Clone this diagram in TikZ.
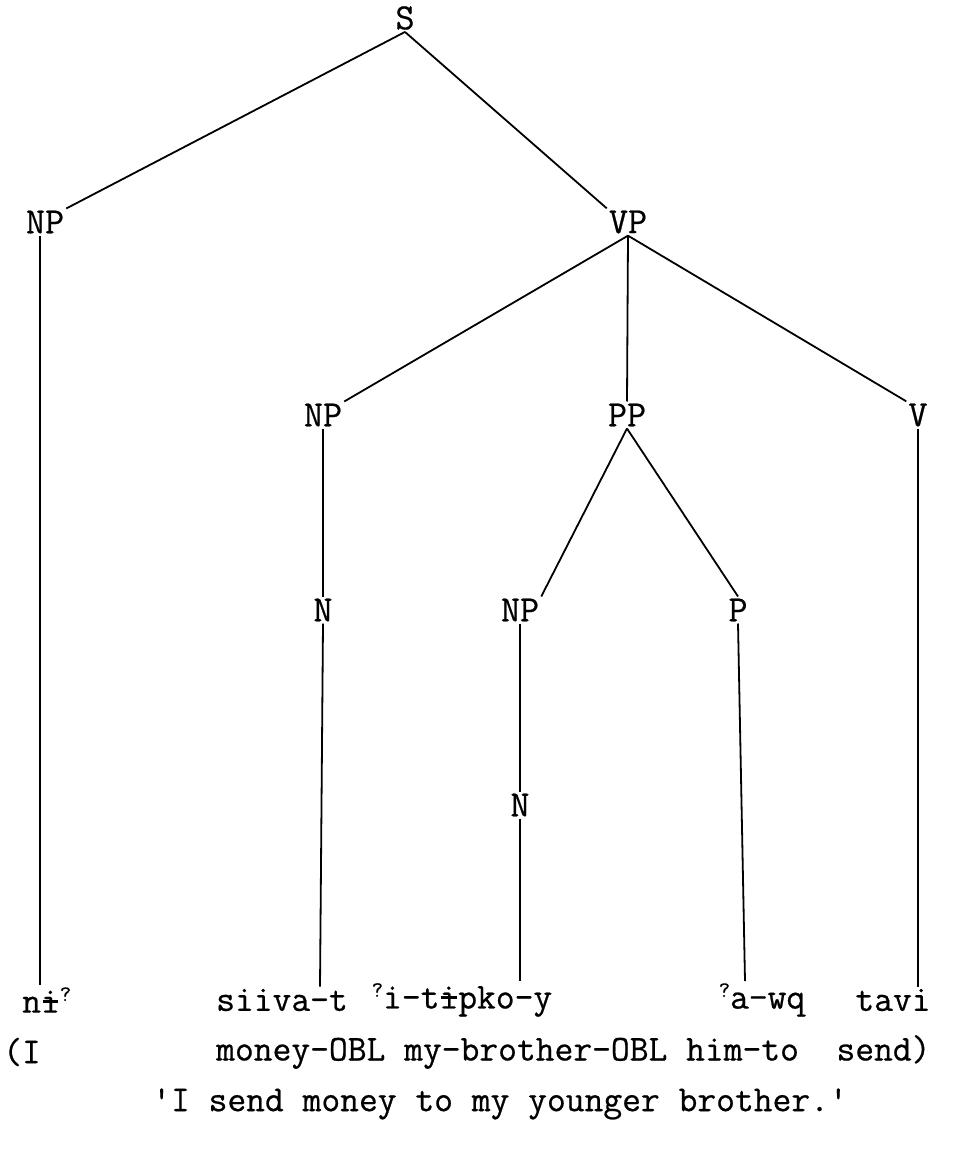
\documentclass[tikz,border=0pt]{standalone}
\usepackage{fontspec}
\newfontfamily\tw{Latin Modern Mono}[FakeBold=0.6]
\newcommand\bari{\ooalign{i\cr\hfil\rule[0.27em]{0.42em}{0.07em}\hfil\cr}}
\newcommand\gst{\raisebox{0.32em}{\fontsize{22}{22}\selectfont ?}}
\begin{document}
\begin{tikzpicture}[x=1pt,y=-1pt,
  lab/.style={font=\tw\fontsize{37}{37}\selectfont, inner sep=2pt},
  wd/.style={font=\tw\fontsize{36.5}{36.5}\selectfont, inner sep=2pt},
  br/.style={line width=1.8pt}]
\useasboundingbox (0,0) rectangle (961,1150);
% tree labels
\node[lab] (S)   at (405,18)  {S};
\node[lab] (NPa) at (45,222)  {NP};
\node[lab] (VP)  at (628,222) {VP};
\node[lab] (NPb) at (323,415) {NP};
\node[lab] (PP)  at (627,415) {PP};
\node[lab] (V)   at (918,415) {V};
\node[lab] (Na)  at (323,610) {N};
\node[lab] (NPc) at (520,610) {NP};
\node[lab] (P)   at (738,610) {P};
\node[lab] (Nb)  at (520,805) {N};
% words
\node[wd,anchor=west] (w1) at (20,1000)  {n\bari\gst};
\node[wd] (w2) at (282,1000) {siiva-t};
\node[wd] (w3) at (462,1000) {\gst i-t\bari pko-y};
\node[wd] (w4) at (762,1000) {\gst a-wq};
\node[wd] (w5) at (893,1000) {tavi};
% gloss
\node[wd,anchor=west] (g1) at (1,1052)  {(I};
\node[wd,anchor=west] (g2) at (214,1052) {money-OBL my-brother-OBL him-to\ \ send)};
% translation
\node[wd] (t) at (500,1104) {'I send money to my younger brother.'};
% branches
\draw[br] (S.south) -- (NPa.north east);
\draw[br] (S.south) -- (VP.north west);
\draw[br] (VP.south) -- (NPb.north east);
\draw[br] (VP.south) -- (PP.north);
\draw[br] (VP.south) -- (V.north west);
\draw[br] (PP.south) -- (NPc.north east);
\draw[br] (PP.south) -- (P.north);
\draw[br] ([xshift=-5pt]NPa.south) -- ([xshift=-5pt]NPa.south |- w1.north);
\draw[br] (NPb.south) -- (Na.north);
\draw[br] (Na.south) -- ([xshift=-3pt]Na.south |- w2.north);
\draw[br] (NPc.south) -- (Nb.north);
\draw[br] (Nb.south) -- (Nb.south |- w3.north);
\draw[br] (P.south) -- ([xshift=7pt]P.south |- w4.north);
\draw[br] (V.south) -- (V.south |- w5.north);
\end{tikzpicture}
\end{document}
